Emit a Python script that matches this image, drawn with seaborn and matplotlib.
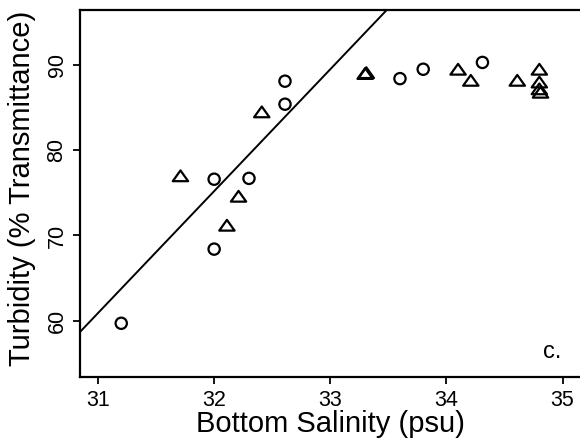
import numpy as np
import pandas as pd
import matplotlib
matplotlib.use("Agg")
import matplotlib.pyplot as plt
from matplotlib.path import Path
import seaborn as sns

# ---------- data ----------
circ_sal = [31.20, 32.00, 32.00, 32.30, 32.61, 32.61, 33.60, 33.80, 34.31]
circ_turb = [59.7, 68.4, 76.6, 76.7, 85.4, 88.1, 88.4, 89.5, 90.3]

tri_sal = [31.71, 32.11, 32.21, 32.41, 33.30, 33.31, 34.10, 34.21, 34.61,
           34.80, 34.80, 34.80, 34.81]
tri_turb = [77.0, 71.2, 74.6, 84.5, 89.0, 89.1, 89.5, 88.2, 88.2,
            89.5, 88.0, 87.2, 86.8]

# regression line through the low-salinity points
fit_slope = 14.3
fit_intercept = -382.4

x_ticks = [31, 32, 33, 34, 35]
y_ticks = [60, 70, 80, 90]

df = pd.DataFrame({
    "sal": circ_sal + tri_sal,
    "turb": circ_turb + tri_turb,
    "grp": ["circ"] * len(circ_sal) + ["tri"] * len(tri_sal),
})

sns.set_style("ticks")
plt.rcParams["font.family"] = ["Liberation Sans", "DejaVu Sans"]
plt.rcParams["text.color"] = "black"
plt.rcParams["axes.labelcolor"] = "black"
plt.rcParams["xtick.color"] = "black"
plt.rcParams["ytick.color"] = "black"

fig = plt.figure(figsize=(5.8, 4.43), dpi=100)
ax = fig.add_axes([80 / 580, 1 - 377 / 443, 500 / 580, 367 / 443])

xlim = (30.845, 35.15)
ylim = (53.4, 96.45)

xs = np.array(xlim)
ax.plot(xs, fit_slope * xs + fit_intercept, color="black", lw=1.4)

# wide, flat open triangle like the original figure
flat_tri = Path([(-1, -0.7), (1, -0.7), (0, 0.7), (-1, -0.7)], closed=True)
sns.scatterplot(data=df, x="sal", y="turb", style="grp", size="grp",
                markers={"circ": "o", "tri": flat_tri},
                sizes={"circ": 66, "tri": 122},
                facecolor="none", edgecolor="black", linewidth=1.6,
                legend=False, ax=ax, zorder=3)

ax.text(34.83, 56.3, "c.", fontsize=17, va="center", ha="left")

ax.set_xlim(xlim)
ax.set_ylim(ylim)
ax.set_xticks(x_ticks)
ax.set_yticks(y_ticks)
ax.set_xticklabels([str(v) for v in x_ticks], fontsize=15.5)
ax.set_yticklabels([str(v) for v in y_ticks], fontsize=15.5, rotation=90, va="center")
ax.tick_params(direction="out", length=5, width=1.3, color="black", pad=4)
ax.tick_params(axis="y", pad=4)
ax.set_xlabel("Bottom Salinity (psu)", fontsize=21, labelpad=0)
ax.set_ylabel("Turbidity (% Transmittance)", fontsize=21)
ax.yaxis.set_label_coords(-0.088, 0.515)

for side in ["left", "bottom", "top"]:
    ax.spines[side].set_visible(True)
    ax.spines[side].set_linewidth(1.6)
    ax.spines[side].set_color("black")
ax.spines["right"].set_visible(False)

fig.savefig("out.png", dpi=100)
